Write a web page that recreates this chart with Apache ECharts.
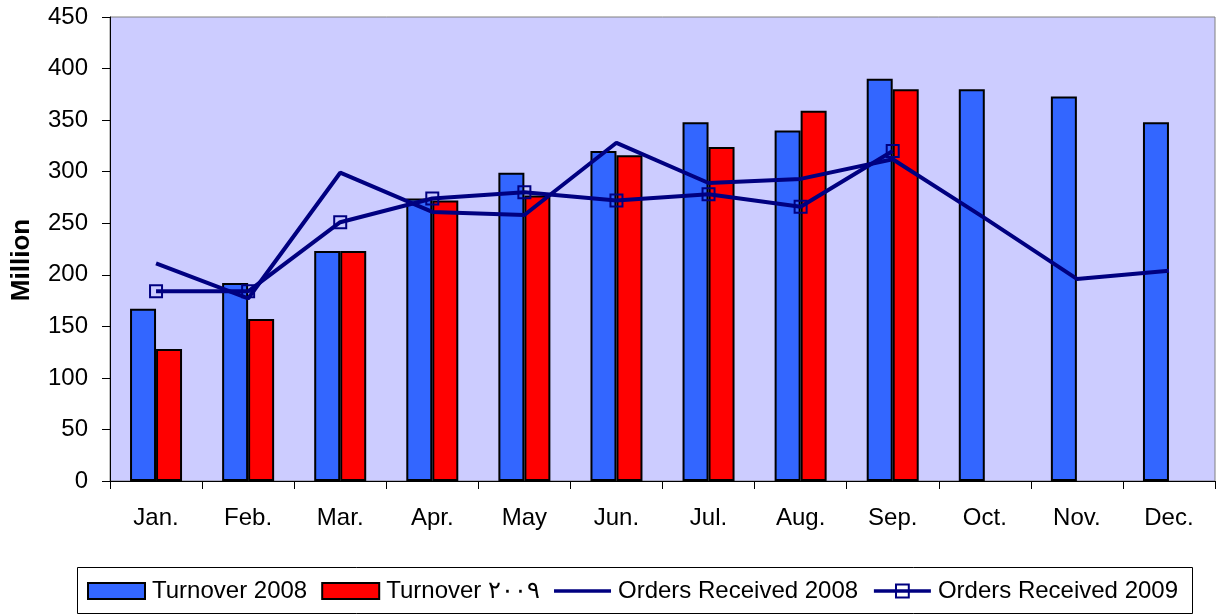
<!DOCTYPE html>
<html>
<head>
<meta charset="utf-8">
<script src="https://cdn.jsdelivr.net/npm/echarts@6/dist/echarts.min.js"></script>
<style>
html,body{margin:0;padding:0;background:#fff;}
#chart{width:1222px;height:614px;}
</style>
</head>
<body>
<div id="chart"></div>
<script>
const months = ['Jan.','Feb.','Mar.','Apr.','May','Jun.','Jul.','Aug.','Sep.','Oct.','Nov.','Dec.'];
const turnover2008 = [167,192,223,274,299,320,348,340,390,380,373,348];
const turnover2009 = [128,157,223,272,277,316,324,359,380,null,null,null];
const orders2008 = [211,177,299,261,258,328,289,293,312,255,196,204];
const orders2009 = [184,184,251,274,280,272,278,266,320,null,null,null];
const yTicks = [0,50,100,150,200,250,300,350,400,450];
const seriesNames = ['Turnover 2008','Turnover \u0662\u0660\u0660\u0669','Orders Received 2008','Orders Received 2009'];
const yAxisTitle = 'Million';

const font = '"Liberation Sans", Arial, sans-serif';
const navy = '#000080';
const chart = echarts.init(document.getElementById('chart'), null, {renderer:'canvas'});
chart.setOption({
  animation:false,
  backgroundColor:'#ffffff',
  textStyle:{fontFamily:font},
  grid:{left:110,right:7,top:17,bottom:133,show:true,backgroundColor:'#CCCCFF',borderColor:'#808080',borderWidth:1},
  xAxis:{
    type:'category',data:months,
    axisLine:{lineStyle:{color:'#000',width:1}},
    axisTick:{show:true,length:8,lineStyle:{color:'#000'}},
    axisLabel:{color:'#000',fontSize:24,fontFamily:font,margin:25}
  },
  yAxis:{
    type:'value',min:yTicks[0],max:yTicks[yTicks.length-1],interval:50,
    axisLine:{show:true,lineStyle:{color:'#000',width:1}},
    axisTick:{show:true,length:8,lineStyle:{color:'#000'}},
    splitLine:{show:false},
    axisLabel:{color:'#000',fontSize:24,fontFamily:font,margin:22}
  },
  graphic:[
    {type:'text',x:22,y:260,rotation:Math.PI/2,style:{text:yAxisTitle,font:'bold 26px '+font,fill:'#000',align:'center',verticalAlign:'middle'}},
    {type:'rect',shape:{x:77.5,y:567.5,width:1115,height:46},style:{fill:'none',stroke:'#000',lineWidth:1},z:-1}
  ],
  legend:{
    left:87,top:579,padding:0,itemWidth:57,itemHeight:16,itemGap:14,
    textStyle:{fontSize:24,fontFamily:font,color:'#000',padding:[0,0,0,2]},
    data:[
      {name:seriesNames[0],icon:'rect'},
      {name:seriesNames[1],icon:'rect'},
      {name:seriesNames[2],icon:'path://M0,0h57v3.5h-57z',itemStyle:{color:navy,borderWidth:0}},
      {name:seriesNames[3],lineStyle:{width:3.5,color:navy}}
    ]
  },
  series:[
    {name:seriesNames[0],type:'bar',data:turnover2008,barWidth:26,barGap:'0%',
     itemStyle:{color:'#3366FF',borderColor:'#000',borderWidth:2}},
    {name:seriesNames[1],type:'bar',data:turnover2009,barWidth:26,barGap:'0%',
     itemStyle:{color:'#FF0000',borderColor:'#000',borderWidth:2}},
    {name:seriesNames[2],type:'line',data:orders2008,symbol:'none',
     lineStyle:{color:navy,width:4},itemStyle:{color:navy}},
    {name:seriesNames[3],type:'line',data:orders2009,symbol:'rect',symbolSize:12,
     lineStyle:{color:navy,width:4},
     itemStyle:{color:'transparent',borderColor:navy,borderWidth:2}}
  ]
});
</script>
</body>
</html>
